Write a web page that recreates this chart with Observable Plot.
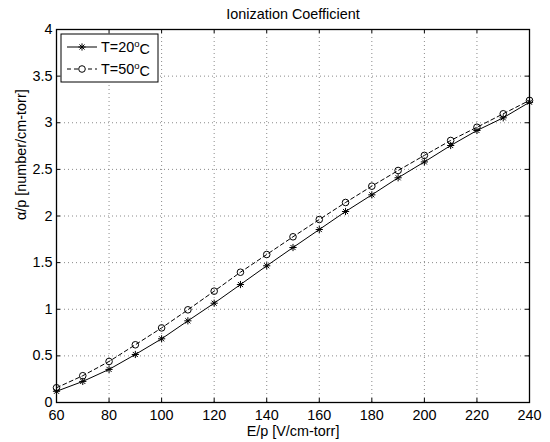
<!DOCTYPE html>
<html>
<head>
<meta charset="utf-8">
<script src="https://cdn.jsdelivr.net/npm/d3@7"></script>
<script src="https://cdn.jsdelivr.net/npm/@observablehq/plot@0.6"></script>
<style>
  html, body { margin: 0; padding: 0; background: #fff; }
  svg { font-family: "Liberation Sans", Arial, Helvetica, sans-serif; }
</style>
</head>
<body>
<div id="chart"></div>
<script>
// ---- data ----
const ep = [60, 70, 80, 90, 100, 110, 120, 130, 140, 150, 160, 170, 180, 190, 200, 210, 220, 230, 240];
const t20 = [0.12, 0.226, 0.355, 0.515, 0.683, 0.876, 1.065, 1.265, 1.466, 1.662, 1.855, 2.048, 2.227, 2.41, 2.58, 2.756, 2.917, 3.053, 3.22];
const t50 = [0.158, 0.287, 0.44, 0.619, 0.80, 0.994, 1.194, 1.397, 1.587, 1.777, 1.962, 2.145, 2.32, 2.488, 2.65, 2.81, 2.952, 3.096, 3.24];
const xTicks = [60, 80, 100, 120, 140, 160, 180, 200, 220, 240];
const yTicks = [0, 0.5, 1, 1.5, 2, 2.5, 3, 3.5, 4];
const seriesNames = ["T=20", "T=50"];
const titleText = "Ionization Coefficient";
const xLabel = "E/p [V/cm-torr]";
const yLabel = "α/p [number/cm-torr]";

const rows = [];
ep.forEach((x, i) => {
  rows.push({x, y: t20[i], s: seriesNames[0]});
  rows.push({x, y: t50[i], s: seriesNames[1]});
});
const r20 = rows.filter(d => d.s === seriesNames[0]);
const r50 = rows.filter(d => d.s === seriesNames[1]);

// MATLAB-style 8-arm asterisk
const asterisk8 = {
  draw(ctx, size) {
    const r = Math.sqrt(size / Math.PI);
    const q = r * Math.SQRT1_2;
    ctx.moveTo(-r, 0); ctx.lineTo(r, 0);
    ctx.moveTo(0, -r); ctx.lineTo(0, r);
    ctx.moveTo(-q, -q); ctx.lineTo(q, q);
    ctx.moveTo(-q, q); ctx.lineTo(q, -q);
  }
};

const W = 550, H = 442, mL = 56, mR = 21, mT = 29, mB = 40;
const fw = W - mL - mR, fh = H - mT - mB;
const tick = 4;
const fs = 14.4;

const plot = Plot.plot({
  width: W, height: H,
  marginLeft: mL, marginRight: mR, marginTop: mT, marginBottom: mB,
  x: {domain: [60, 240]},
  y: {domain: [0, 4]},
  style: {fontFamily: '"Liberation Sans", Arial, sans-serif', fontSize: fs + "px", background: "#fff", overflow: "visible"},
  marks: [
    // grid
    Plot.ruleX(xTicks.slice(1, -1), {x: d => d, stroke: "#8a8a8a", strokeDasharray: "1,3", strokeWidth: 1}),
    Plot.ruleY(yTicks.slice(1, -1), {y: d => d, stroke: "#8a8a8a", strokeDasharray: "1,3", strokeWidth: 1}),
    // inward ticks on all sides
    Plot.tickX(xTicks, {x: d => d, insetTop: fh - tick, stroke: "#000"}),
    Plot.tickX(xTicks, {x: d => d, insetBottom: fh - tick, stroke: "#000"}),
    Plot.tickY(yTicks, {y: d => d, insetRight: fw - tick, stroke: "#000"}),
    Plot.tickY(yTicks, {y: d => d, insetLeft: fw - tick, stroke: "#000"}),
    // tick labels
    Plot.axisX({anchor: "bottom", ticks: xTicks, tickSize: 0, tickPadding: 7, tickFormat: d => String(d), label: null, fontSize: fs, fill: "#000"}),
    Plot.axisY({anchor: "left", ticks: yTicks, tickSize: 0, tickPadding: 4, tickFormat: d => String(d), label: null, fontSize: fs, fill: "#000"}),
    // series
    Plot.line(r20, {x: "x", y: "y", stroke: "#000", strokeWidth: 1}),
    Plot.line(r50, {x: "x", y: "y", stroke: "#000", strokeWidth: 1, strokeDasharray: "4,3"}),
    Plot.dot(r20, {x: "x", y: "y", symbol: asterisk8, r: 3.6, stroke: "#000", fill: "none", strokeWidth: 1}),
    Plot.dot(r50, {x: "x", y: "y", symbol: "circle", r: 3.3, stroke: "#000", fill: "none", strokeWidth: 1}),
    // frame
    Plot.frame({stroke: "#000", strokeWidth: 1.3}),
    // title & labels
    Plot.text([titleText], {text: d => d, frameAnchor: "top", dy: -15, lineAnchor: "middle", fontSize: fs, fill: "#000"}),
    Plot.text([xLabel], {text: d => d, frameAnchor: "bottom", dy: 29, lineAnchor: "middle", fontSize: fs, fill: "#000"}),
    Plot.text([yLabel], {text: d => d, frameAnchor: "left", dx: -35, dy: 4, rotate: -90, lineAnchor: "middle", fontSize: fs, fill: "#000"})
  ]
});

document.getElementById("chart").appendChild(plot);

// ---- legend (drawn inside the axes, upper left) ----
const svg = d3.select(plot);
const lg = svg.append("g").attr("font-size", fs + "px").attr("text-anchor", "start")
  .attr("font-family", '"Liberation Sans", Arial, sans-serif');
const bx = mL + 5, by = mT + 5, bw = 97, bh = 48;
lg.append("rect").attr("x", bx).attr("y", by).attr("width", bw).attr("height", bh)
  .attr("fill", "#fff").attr("stroke", "#000").attr("stroke-width", 1);
const rowsY = [by + 13, by + 35];
const dashes = [null, "4,3"];
seriesNames.forEach((name, i) => {
  const yy = rowsY[i];
  const ln = lg.append("line").attr("x1", bx + 6).attr("x2", bx + 36).attr("y1", yy).attr("y2", yy)
    .attr("stroke", "#000").attr("stroke-width", 1);
  if (dashes[i]) ln.attr("stroke-dasharray", dashes[i]);
  const cx = bx + 21;
  if (i === 0) {
    const r = 3.6, q = r * Math.SQRT1_2;
    lg.append("path").attr("d", `M${cx - r},${yy}L${cx + r},${yy}M${cx},${yy - r}L${cx},${yy + r}M${cx - q},${yy - q}L${cx + q},${yy + q}M${cx - q},${yy + q}L${cx + q},${yy - q}`)
      .attr("stroke", "#000").attr("fill", "none");
  } else {
    lg.append("circle").attr("cx", cx).attr("cy", yy).attr("r", 3.3).attr("fill", "#fff").attr("stroke", "#000");
  }
  const t = lg.append("text").attr("x", bx + 40).attr("y", yy).attr("dy", "0.35em").attr("fill", "#000").attr("text-anchor", "start");
  t.append("tspan").text(name);
  t.append("tspan").attr("dy", "-0.5em").attr("font-size", "9.5px").text("o");
  t.append("tspan").attr("dy", "0.5em").text("C");
});
</script>
</body>
</html>
